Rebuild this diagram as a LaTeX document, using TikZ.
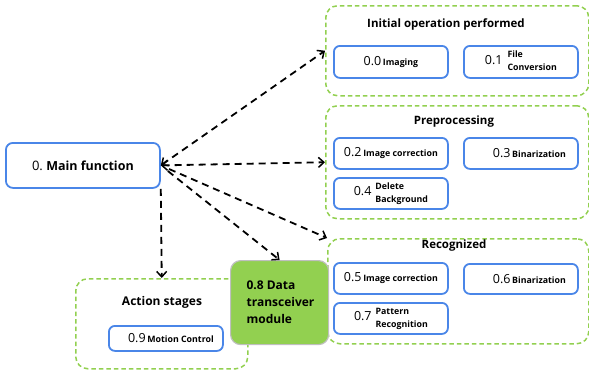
\documentclass[tikz,border=0pt]{standalone}
\usepackage{fontspec}
\setmainfont{Open Sans}
\usetikzlibrary{arrows.meta}

\definecolor{boxblue}{RGB}{74,134,232}
\definecolor{grpgreen}{RGB}{146,208,80}
\definecolor{modgreen}{RGB}{146,208,80}

\tikzset{
  grp/.style={draw=grpgreen, line width=1.5pt, dash pattern=on 4.5pt off 3pt,
    rounded corners=12pt, anchor=north west, inner sep=0pt},
  item/.style={draw=boxblue, line width=1.8pt, rounded corners=6pt, fill=white,
    anchor=north west, inner sep=0pt, minimum width=114pt, minimum height=32pt},
  grptitle/.style={font=\bfseries\fontsize{11.5}{14}\selectfont, inner sep=0pt},
  link/.style={draw=black, line width=1.8pt, dash pattern=on 7pt off 5pt,
    arrows={-Straight Barb[length=5.5pt,width=10pt,line width=1.5pt]}},
  biglink/.style={link, arrows={Straight Barb[length=5.5pt,width=10pt,line width=1.5pt]-Straight Barb[length=5.5pt,width=10pt,line width=1.5pt]}},
}
\newcommand{\nm}[1]{{\fontsize{12.5}{14}\selectfont #1}}
\newcommand{\lb}[1]{{\bfseries\fontsize{8.8}{11}\selectfont #1}}
\newcommand{\lbtwo}[2]{{\bfseries\fontsize{8.8}{11}\selectfont\begin{tabular}[c]{@{}l@{}}#1\\[2pt]#2\end{tabular}}}

\begin{document}
\begin{tikzpicture}[x=1pt,y=-1pt]
\useasboundingbox (0,0) rectangle (589,373);

% main function box
\node[draw=boxblue, line width=1.8pt, rounded corners=7pt, anchor=north west,
  minimum width=154pt, minimum height=45pt, inner sep=0pt] (main) at (5,142)
  {\fontsize{13}{15}\selectfont 0.\ \bfseries\fontsize{12.5}{14}\selectfont Main function};

% group: initial operation
\node[grp, minimum width=263pt, minimum height=90pt] (init) at (325,5) {};
\node[grptitle] (initT) at (446,24) {Initial operation performed};
\node[item] (i0) at (333,45) {\nm{0.0}\,\lb{Imaging}};
\node[item] (i1) at (463,45) {\nm{0.1}\hspace{5pt}\lbtwo{File}{Conversion}};

% group: preprocessing
\node[grp, minimum width=263pt, minimum height=113pt] (pre) at (325,105) {};
\node[grptitle] (preT) at (454,122) {Preprocessing};
\node[item, minimum height=31pt] (p2) at (333,137) {\nm{0.2}\,\lb{Image correction}};
\node[item, minimum height=31pt] (p3) at (463,137) {\hspace*{17pt}\nm{0.3}\,\lb{Binarization}};
\node[item, minimum height=31pt] (p4) at (333,177) {\nm{0.4}\hspace{4pt}\lbtwo{Delete}{Background}};

% group: recognized
\node[grp, minimum width=261pt, minimum height=105pt] (rec) at (327,238) {};
\node[grptitle] (recT) at (454,246) {Recognized};
\node[item, minimum height=31pt] (r5) at (333,262) {\nm{0.5}\,\lb{Image correction}};
\node[item, minimum height=30pt] (r6) at (463,263) {\hspace*{17pt}\nm{0.6}\,\lb{Binarization}};
\node[item, minimum height=31pt] (r7) at (333,302) {\nm{0.7}\hspace{4pt}\lbtwo{Pattern}{Recognition}};

% group: action stages
\node[grp, minimum width=172pt, minimum height=90pt] (act) at (75,278) {};
\node[grptitle, font=\bfseries\fontsize{12}{14}\selectfont] (actT) at (162,302) {Action stages};
\node[item, minimum width=114pt, minimum height=25pt] (a9) at (108,325)
  {\hspace*{10pt}\nm{0.9}\,\lb{Motion Control}};

% data transceiver module
\node[draw=black!25, line width=1.2pt, fill=modgreen, rounded corners=10pt, anchor=north west,
  minimum width=98pt, minimum height=84pt, inner sep=0pt] (data) at (230,260)
  {\begin{minipage}{66pt}\bfseries\fontsize{12}{17}\selectfont 0.8 Data\\transceiver\\module\end{minipage}};

% connectors
\draw[biglink] (main.east) -- (init.west);
\draw[biglink] (main.east) -- (pre.west);
\draw[link, shorten <=9pt] (main.east) -- (rec.north west);
\draw[link, shorten <=9pt] (main.east) -- (data.north);
\draw[link] (main.south east) -- (act.north);
\end{tikzpicture}
\end{document}
